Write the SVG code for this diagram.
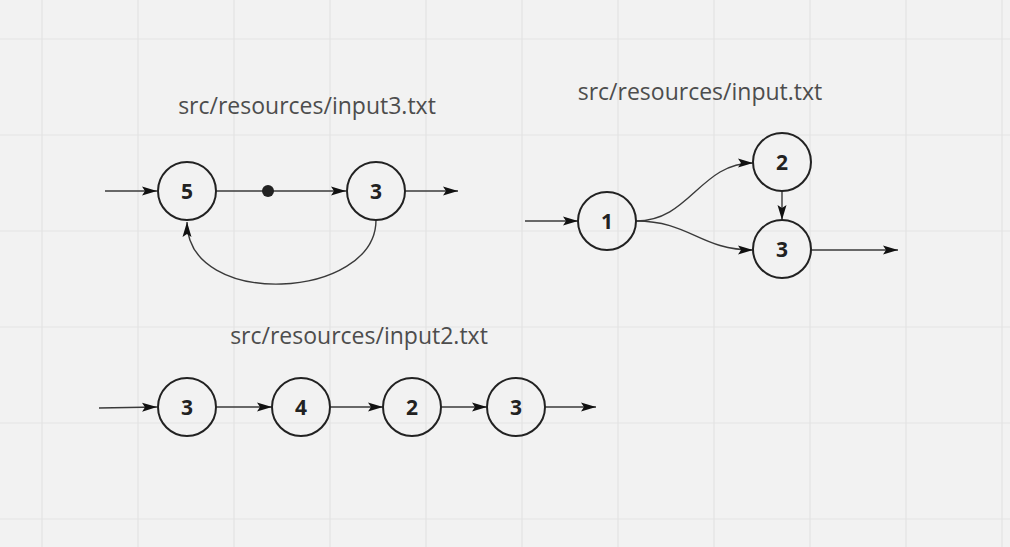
<svg xmlns="http://www.w3.org/2000/svg" width="1010" height="547" viewBox="0 0 1010 547">
<defs>
<style>
.grid line{stroke:#e3e3e3;stroke-width:1.2}
.node circle{fill:none;stroke:#222;stroke-width:2}
.node text{font-family:"Open Sans","Liberation Sans",sans-serif;font-weight:bold;font-size:21px;fill:#222;text-anchor:middle;dominant-baseline:central}
.label{font-family:"Open Sans","Liberation Sans",sans-serif;font-size:23px;fill:#4d4d4d;text-anchor:middle}
.edges path{fill:none;stroke:#3a3a3a;stroke-width:1.4;marker-end:url(#arr)}
</style>
<marker id="arr" markerUnits="userSpaceOnUse" markerWidth="16" markerHeight="10" refX="15" refY="5" orient="auto">
<path d="M0,0.5 L15,5 L0,9.5 L3,5 Z" fill="#111"/>
</marker>
</defs>
<rect width="1010" height="547" fill="#f2f2f2"/>
<g class="grid">
<line x1="42" y1="0" x2="42" y2="547"/><line x1="138" y1="0" x2="138" y2="547"/><line x1="234" y1="0" x2="234" y2="547"/><line x1="330" y1="0" x2="330" y2="547"/><line x1="426" y1="0" x2="426" y2="547"/><line x1="522" y1="0" x2="522" y2="547"/><line x1="618" y1="0" x2="618" y2="547"/><line x1="714" y1="0" x2="714" y2="547"/><line x1="810" y1="0" x2="810" y2="547"/><line x1="906" y1="0" x2="906" y2="547"/><line x1="1002" y1="0" x2="1002" y2="547"/>
<line x1="0" y1="39" x2="1010" y2="39"/><line x1="0" y1="135" x2="1010" y2="135"/><line x1="0" y1="231" x2="1010" y2="231"/><line x1="0" y1="327" x2="1010" y2="327"/><line x1="0" y1="423" x2="1010" y2="423"/><line x1="0" y1="519" x2="1010" y2="519"/>
</g>
<text class="label" x="307" y="114">src/resources/input3.txt</text>
<text class="label" x="700" y="100">src/resources/input.txt</text>
<text class="label" x="359" y="344">src/resources/input2.txt</text>
<g class="edges">
<path d="M105,191 L157,191"/>
<path d="M216,191 L346,191"/>
<path d="M405,191 L458,191"/>
<path d="M376,220 C376,300 187,310 187,222"/>
<path d="M525,221 L578,221"/>
<path d="M636,221 C690,221 700,163 753,163"/>
<path d="M636,221 C690,221 700,250 753,250"/>
<path d="M782,191 L782,220"/>
<path d="M811,250 L898,250"/>
<path d="M99,408 L157,407"/>
<path d="M216,407 L272,407"/>
<path d="M330,407 L383,407"/>
<path d="M441,407 L487,407"/>
<path d="M545,407 L596,407"/>
</g>
<circle cx="268" cy="191" r="6" fill="#222"/>
<g id="n5" class="node"><circle cx="187" cy="191" r="29"/><text x="187" y="191">5</text></g>
<g id="n3a" class="node"><circle cx="376" cy="191" r="29"/><text x="376" y="191">3</text></g>
<g id="n1" class="node"><circle cx="607" cy="221" r="29"/><text x="607" y="221">1</text></g>
<g id="n2" class="node"><circle cx="782" cy="162" r="29"/><text x="782" y="162">2</text></g>
<g id="n3b" class="node"><circle cx="782" cy="249" r="29"/><text x="782" y="249">3</text></g>
<g id="m3" class="node"><circle cx="187" cy="407" r="29"/><text x="187" y="407">3</text></g>
<g id="m4" class="node"><circle cx="301" cy="407" r="29"/><text x="301" y="407">4</text></g>
<g id="m2" class="node"><circle cx="412" cy="407" r="29"/><text x="412" y="407">2</text></g>
<g id="m3b" class="node"><circle cx="516" cy="407" r="29"/><text x="516" y="407">3</text></g>
</svg>
